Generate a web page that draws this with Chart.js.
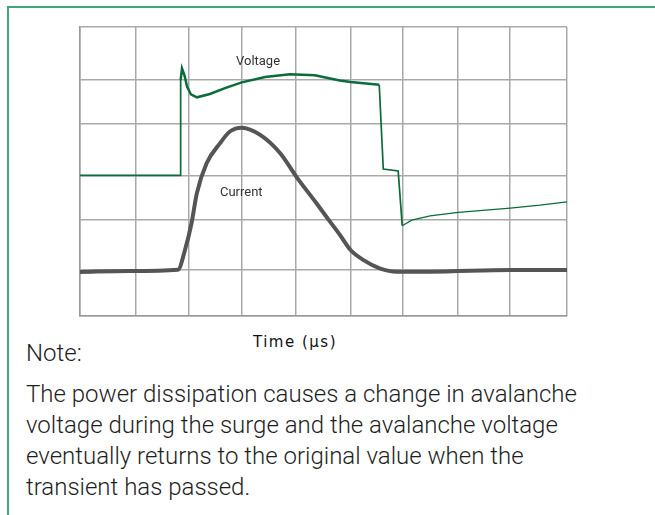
<!DOCTYPE html>
<html>
<head>
<meta charset="utf-8">
<script src="https://cdn.jsdelivr.net/npm/chart.js@4.4.1/dist/chart.umd.min.js"></script>
<style>
    html, body { margin: 0; background: #fff; width: 655px; height: 515px; overflow: hidden; }
    body { position: relative; }
    #frame { position: absolute; left: 7px; top: 6px; width: 646px; height: 509px;
        border-left: 2px solid #41a57a; border-top: 2px solid #41a57a; }
    #chartBox { position: absolute; left: 0; top: 0; width: 655px; height: 320px; }
    #axisTitle { position: absolute; left: 253px; top: 333px; font-family: 'DejaVu Sans', sans-serif;
        font-size: 15px; letter-spacing: 1.5px; color: #111; line-height: 18px; white-space: nowrap; }
    .note { position: absolute; left: 26px; font-family: Roboto, sans-serif; font-weight: 300; color: #1e1e1e; }
    #noteHead { top: 339px; font-size: 24px; line-height: 28px; }
    #noteText { top: 379px; font-size: 24px; line-height: 31px; width: 625px; white-space: nowrap; }
</style>
</head>
<body>
<div id="frame"></div>
<div id="chartBox"><canvas id="lineChart" width="655" height="320"></canvas></div>
<div id="axisTitle">Time (µs)</div>
<div class="note" id="noteHead">Note:</div>
<div class="note" id="noteText">The power dissipation causes a change in avalanche<br>voltage during the surge and the avalanche voltage<br>eventually returns to the original value when the<br>transient has passed.</div>
<script>
// time in µs, values in grid divisions
const voltageTime = [0, 1.85, 1.86, 1.885, 1.93, 1.98, 2.05, 2.16, 2.40, 2.68, 2.99, 3.42, 3.88, 4.34, 4.80, 5.00, 5.53, 5.605, 5.88, 5.955, 6.13, 6.47, 6.99, 7.95, 8.50, 9.0]
const voltageValue = [2.92, 2.92, 4.9, 5.14, 5.0, 4.76, 4.60, 4.54, 4.61, 4.73, 4.85, 4.96, 5.02, 5.00, 4.89, 4.86, 4.80, 3.05, 3.01, 1.875, 1.99, 2.08, 2.15, 2.24, 2.30, 2.37]

const currentTime = [0, 0.92, 1.81, 1.94, 2.06, 2.16, 2.34, 2.59, 2.77, 2.99, 3.33, 3.70, 4.00, 4.37, 4.62, 4.80, 5.00, 5.24, 5.54, 5.85, 6.47, 7.95, 9.0]
const currentValue = [0.913, 0.934, 0.96, 1.37, 1.92, 2.55, 3.17, 3.59, 3.83, 3.91, 3.76, 3.38, 2.89, 2.34, 1.96, 1.69, 1.37, 1.16, 0.99, 0.92, 0.92, 0.955, 0.955]

const xGrid = [0, 1.03, 2.01, 2.99, 3.99, 5.01, 5.97, 6.99, 7.95, 9]
const yGrid = [0, 0.95, 1.99, 2.92, 3.99, 4.9, 6]

const seriesLabels = ['Voltage', 'Current']
const labelPos = [[3.29, 5.27], [2.98, 2.56]]

function toPoints(xs, ys) {
    return xs.map(function (x, i) { return { x: x, y: ys[i] } })
}

const inlineLabels = {
    id: 'inlineLabels',
    afterDatasetsDraw(chart) {
        const ctx = chart.ctx
        ctx.save()
        ctx.font = '13px Roboto, sans-serif'
        ctx.fillStyle = '#333'
        ctx.textAlign = 'center'
        ctx.textBaseline = 'middle'
        seriesLabels.forEach(function (name, i) {
            const px = chart.scales.x.getPixelForValue(labelPos[i][0])
            const py = chart.scales.y.getPixelForValue(labelPos[i][1])
            ctx.fillText(name, px, py)
        })
        ctx.restore()
    }
}

const gridStyle = { color: '#a9a9a9', lineWidth: 1.5, drawTicks: false }
const borderStyle = { color: '#9a9a9a', width: 1.5 }

// voltage trace is heavier over the surge hump, thin after it drops
function voltageWidth(ctx) {
    const i = ctx.p0DataIndex
    if (i >= 2 && i <= 15) return 2.5
    if (i >= 19) return 1.3
    return 1.7
}

new Chart(document.getElementById('lineChart'), {
    type: 'line',
    data: {
        datasets: [{
            label: 'Voltage',
            data: toPoints(voltageTime, voltageValue),
            borderColor: '#0b6b3a',
            borderWidth: 2,
            segment: { borderWidth: voltageWidth },
            pointRadius: 0,
            tension: 0
        }, {
            label: 'Current',
            data: toPoints(currentTime, currentValue),
            borderColor: '#555555',
            borderWidth: 4,
            pointRadius: 0,
            cubicInterpolationMode: 'monotone'
        }]
    },
    options: {
        responsive: false,
        animation: false,
        layout: { padding: { left: 80, top: 27, right: 88, bottom: 4 } },
        plugins: { legend: { display: false }, tooltip: { enabled: false } },
        scales: {
            x: {
                type: 'linear', min: 0, max: 9,
                grid: gridStyle, border: borderStyle,
                ticks: { display: false },
                afterBuildTicks: function (scale) { scale.ticks = xGrid.map(function (v) { return { value: v } }) }
            },
            y: {
                type: 'linear', min: 0, max: 6,
                grid: gridStyle, border: borderStyle,
                ticks: { display: false },
                afterBuildTicks: function (scale) { scale.ticks = yGrid.map(function (v) { return { value: v } }) }
            }
        }
    },
    plugins: [inlineLabels]
});
</script>
</body>
</html>
